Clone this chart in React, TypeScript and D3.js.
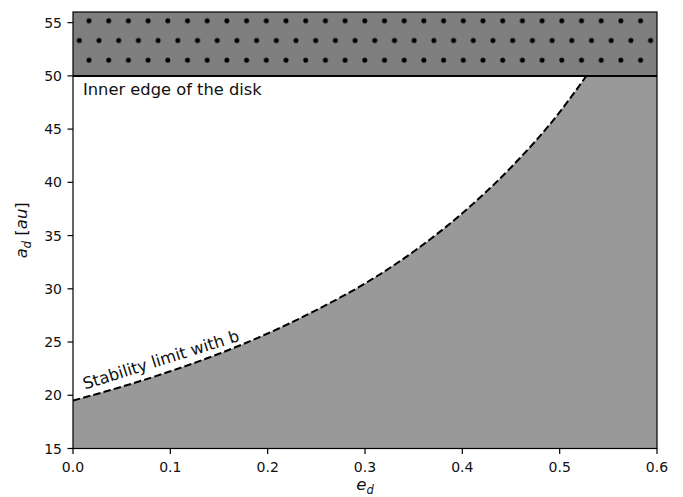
import React from "react";
import * as d3 from "d3";

// disk eccentricity samples and stability limit
const ecc = [0, 0.05, 0.1, 0.15, 0.2, 0.25, 0.3, 0.35, 0.4, 0.45, 0.5, 0.55, 0.6];
const stabilityLimit = [19.5, 20.8, 22.25, 23.9, 25.8, 28.0, 30.5, 33.5, 37.1, 41.4, 46.6, 53.2, 61.8];
const xTicks = [0, 0.1, 0.2, 0.3, 0.4, 0.5, 0.6];
const yTicks = [15, 20, 25, 30, 35, 40, 45, 50, 55];
const innerEdge = 50;
const yTop = 56;

const W = 683;
const H = 497;
const margin = { top: 12, right: 26, bottom: 48.5, left: 73 };

export default function App() {
  const x = d3.scaleLinear().domain([0, 0.6]).range([margin.left, W - margin.right]);
  const y = d3.scaleLinear().domain([15, yTop]).range([H - margin.bottom, margin.top]);
  const pts: [number, number][] = ecc.map((e, i) => [e, stabilityLimit[i]]);

  const line = d3
    .line<[number, number]>()
    .x((d) => x(d[0]))
    .y((d) => y(d[1]))
    .curve(d3.curveMonotoneX);

  const area = d3
    .area<[number, number]>()
    .x((d) => x(d[0]))
    .y0(y(15))
    .y1((d) => y(d[1]))
    .curve(d3.curveMonotoneX);

  const [x0, x1] = x.range();
  const [yb, yt] = y.range();
  const font = "DejaVu Sans, sans-serif";

  return (
    <svg width={W} height={H} style={{ position: "absolute", left: 0, top: 0 }}>
      <defs>
        <clipPath id="plot">
          <rect x={x0} y={yt} width={x1 - x0} height={yb - yt} />
        </clipPath>
        <pattern id="dots" patternUnits="userSpaceOnUse" x={74.4} y={10.9} width={19.7} height={39.4}>
          <circle cx={14.6} cy={9.8} r={2.5} fill="#000" />
          <circle cx={4.9} cy={29.5} r={2.5} fill="#000" />
        </pattern>
      </defs>
      <rect width={W} height={H} fill="#fff" />
      <g clipPath="url(#plot)">
        <path d={area(pts) ?? ""} fill="#999999" />
        <path d={line(pts) ?? ""} fill="none" stroke="#000" strokeWidth={2} strokeDasharray="7.4,3.2" />
        <rect x={x0} y={y(yTop)} width={x1 - x0} height={y(innerEdge) - y(yTop)} fill="#7f7f7f" />
        <rect x={x0} y={y(yTop)} width={x1 - x0} height={y(innerEdge) - y(yTop)} fill="url(#dots)" />
        <line x1={x0} x2={x1} y1={y(innerEdge)} y2={y(innerEdge)} stroke="#000" strokeWidth={2} />
      </g>
      <text x={x0 + 10} y={y(innerEdge) + 19.5} fontFamily={font} fontSize={16.3} fill="#111">
        Inner edge of the disk
      </text>
      <text
        transform={`translate(${x0 + 12},${y(19.5) - 11}) rotate(-17.5)`}
        fontFamily={font}
        fontSize={16.3}
        fill="#111"
      >
        Stability limit with b
      </text>
      <rect x={x0} y={yt} width={x1 - x0} height={yb - yt} fill="none" stroke="#000" strokeWidth={1.2} />
      {xTicks.map((t) => (
        <g key={"x" + t}>
          <line x1={x(t)} x2={x(t)} y1={yb} y2={yb + 5.5} stroke="#000" strokeWidth={1.2} />
          <text x={x(t)} y={yb + 23.5} textAnchor="middle" fontFamily={font} fontSize={14} fill="#111">
            {t.toFixed(1)}
          </text>
        </g>
      ))}
      {yTicks.map((t) => (
        <g key={"y" + t}>
          <line x1={x0 - 5.5} x2={x0} y1={y(t)} y2={y(t)} stroke="#000" strokeWidth={1.2} />
          <text x={x0 - 11} y={y(t) + 5} textAnchor="end" fontFamily={font} fontSize={14} fill="#111">
            {t}
          </text>
        </g>
      ))}
      <text x={(x0 + x1) / 2} y={H - 7} textAnchor="middle" fontFamily={font} fontSize={16.5} fill="#111">
        <tspan fontStyle="italic">e</tspan>
        <tspan fontStyle="italic" fontSize={11.5} dy={3.5}>d</tspan>
      </text>
      <text
        transform={`translate(27,${(yt + yb) / 2}) rotate(-90)`}
        textAnchor="middle"
        fontFamily={font}
        fontSize={16.5}
        fill="#111"
      >
        <tspan fontStyle="italic">a</tspan>
        <tspan fontStyle="italic" fontSize={11.5} dy={3.5}>d</tspan>
        <tspan dy={-3.5}> [</tspan>
        <tspan fontStyle="italic">au</tspan>
        <tspan>]</tspan>
      </text>
    </svg>
  );
}
